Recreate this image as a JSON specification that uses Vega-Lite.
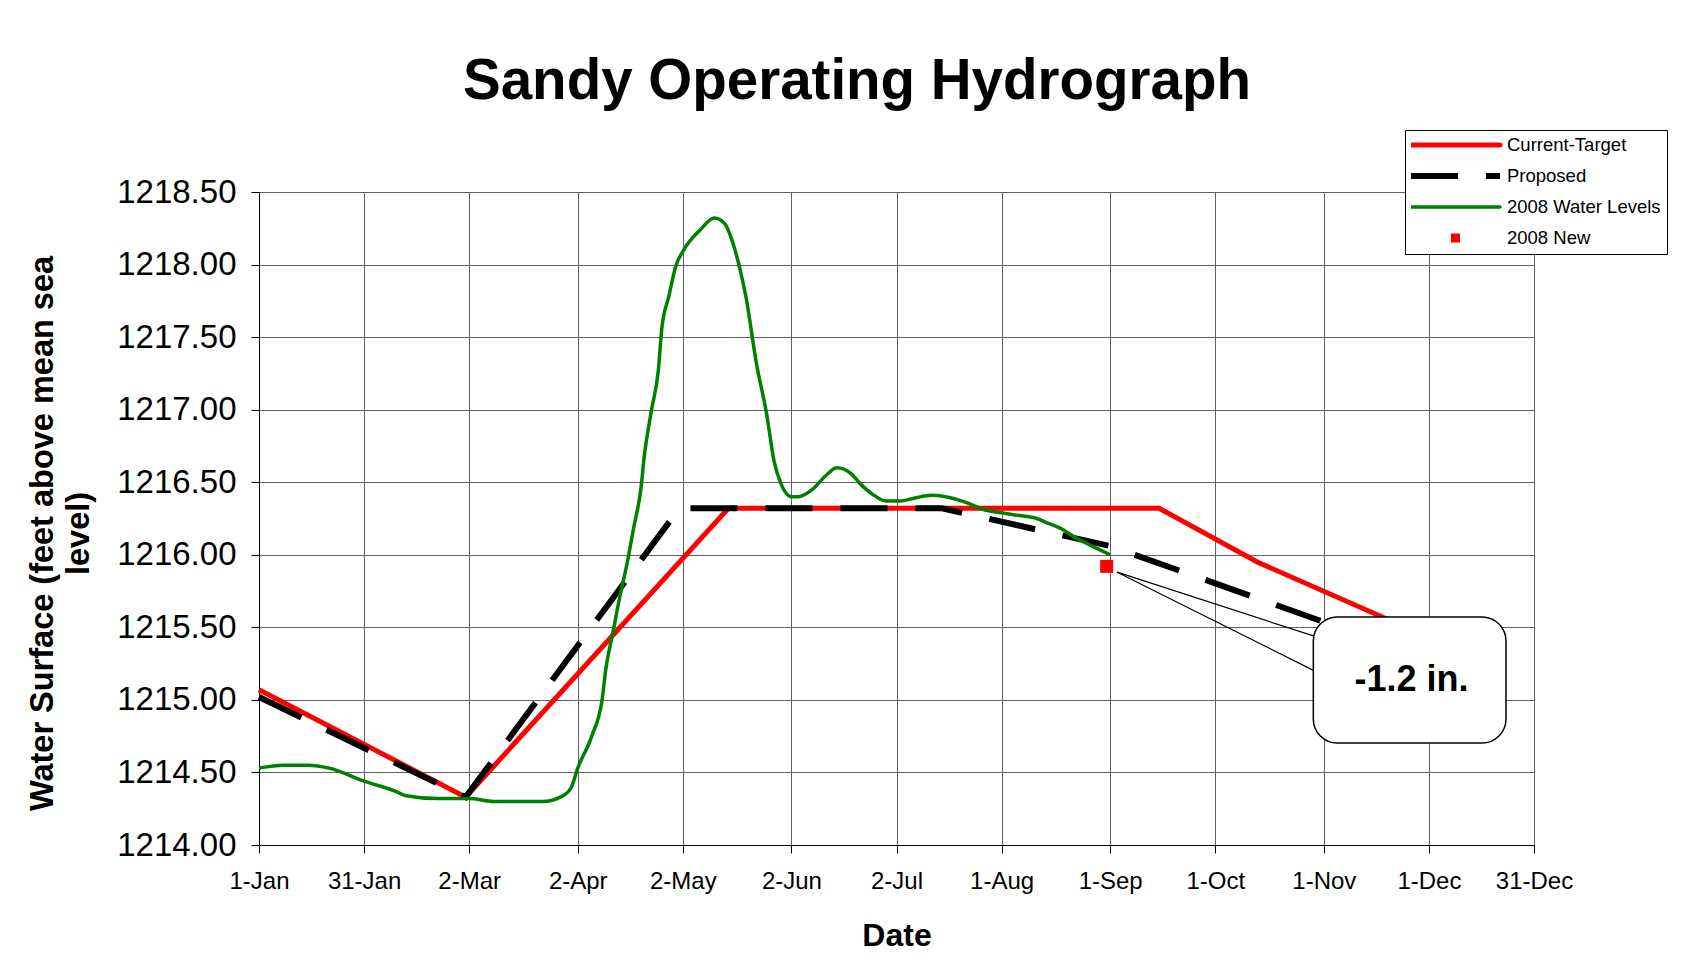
{
  "$schema": "https://vega.github.io/schema/vega-lite/v6.json",
  "width": 1275,
  "height": 653,
  "autosize": "none",
  "padding": {"left": 259, "top": 192, "right": 160, "bottom": 130},
  "background": "white",
  "config": {
    "font": "Liberation Sans",
    "view": {"stroke": "#808080", "strokeWidth": 1},
    "axis": {
      "gridColor": "#606060", "gridWidth": 1, "gridOpacity": 1,
      "domainColor": "#000000", "domainWidth": 1,
      "tickColor": "#000000", "tickSize": 8, "tickWidth": 1,
      "labelColor": "#000000", "titleColor": "#000000",
      "labelFont": "Liberation Sans", "titleFont": "Liberation Sans"
    }
  },
  "title": {
    "text": "Sandy Operating Hydrograph",
    "fontSize": 56.5, "fontWeight": "bold", "font": "Liberation Sans", "color": "#000000",
    "anchor": "middle", "frame": "group", "dx": -39.5, "baseline": "alphabetic", "offset": -26
  },
  "data": {"values": [
    {"series": "Current-Target", "date": "2007-01-01", "level": 1215.07},
    {"series": "Current-Target", "date": "2007-03-01", "level": 1214.33},
    {"series": "Current-Target", "date": "2007-05-15", "level": 1216.32},
    {"series": "Current-Target", "date": "2007-09-15", "level": 1216.32},
    {"series": "Current-Target", "date": "2007-10-13", "level": 1215.95},
    {"series": "Current-Target", "date": "2007-12-01", "level": 1215.43},
    {"series": "Proposed", "date": "2007-01-01", "level": 1215.02},
    {"series": "Proposed", "date": "2007-03-01", "level": 1214.33},
    {"series": "Proposed", "date": "2007-05-01", "level": 1216.32},
    {"series": "Proposed", "date": "2007-07-15", "level": 1216.32},
    {"series": "Proposed", "date": "2007-09-01", "level": 1216.06},
    {"series": "Proposed", "date": "2007-12-01", "level": 1215.28},
    {"series": "2008 Water Levels", "date": "2007-01-01", "level": 1214.53},
    {"series": "2008 Water Levels", "date": "2007-01-08", "level": 1214.55},
    {"series": "2008 Water Levels", "date": "2007-01-15", "level": 1214.55},
    {"series": "2008 Water Levels", "date": "2007-01-21", "level": 1214.53},
    {"series": "2008 Water Levels", "date": "2007-01-31", "level": 1214.44},
    {"series": "2008 Water Levels", "date": "2007-02-09", "level": 1214.37},
    {"series": "2008 Water Levels", "date": "2007-02-12", "level": 1214.34},
    {"series": "2008 Water Levels", "date": "2007-02-21", "level": 1214.32},
    {"series": "2008 Water Levels", "date": "2007-03-02", "level": 1214.32},
    {"series": "2008 Water Levels", "date": "2007-03-09", "level": 1214.30},
    {"series": "2008 Water Levels", "date": "2007-03-23", "level": 1214.30},
    {"series": "2008 Water Levels", "date": "2007-03-28", "level": 1214.33},
    {"series": "2008 Water Levels", "date": "2007-03-31", "level": 1214.39},
    {"series": "2008 Water Levels", "date": "2007-04-02", "level": 1214.53},
    {"series": "2008 Water Levels", "date": "2007-04-06", "level": 1214.75},
    {"series": "2008 Water Levels", "date": "2007-04-09", "level": 1215.01},
    {"series": "2008 Water Levels", "date": "2007-04-10", "level": 1215.21},
    {"series": "2008 Water Levels", "date": "2007-04-12", "level": 1215.46},
    {"series": "2008 Water Levels", "date": "2007-04-14", "level": 1215.71},
    {"series": "2008 Water Levels", "date": "2007-04-16", "level": 1215.93},
    {"series": "2008 Water Levels", "date": "2007-04-18", "level": 1216.19},
    {"series": "2008 Water Levels", "date": "2007-04-20", "level": 1216.45},
    {"series": "2008 Water Levels", "date": "2007-04-21", "level": 1216.68},
    {"series": "2008 Water Levels", "date": "2007-04-23", "level": 1216.99},
    {"series": "2008 Water Levels", "date": "2007-04-25", "level": 1217.27},
    {"series": "2008 Water Levels", "date": "2007-04-26", "level": 1217.56},
    {"series": "2008 Water Levels", "date": "2007-04-28", "level": 1217.78},
    {"series": "2008 Water Levels", "date": "2007-04-30", "level": 1217.99},
    {"series": "2008 Water Levels", "date": "2007-05-02", "level": 1218.09},
    {"series": "2008 Water Levels", "date": "2007-05-07", "level": 1218.24},
    {"series": "2008 Water Levels", "date": "2007-05-11", "level": 1218.32},
    {"series": "2008 Water Levels", "date": "2007-05-14", "level": 1218.28},
    {"series": "2008 Water Levels", "date": "2007-05-16", "level": 1218.17},
    {"series": "2008 Water Levels", "date": "2007-05-18", "level": 1218.00},
    {"series": "2008 Water Levels", "date": "2007-05-20", "level": 1217.78},
    {"series": "2008 Water Levels", "date": "2007-05-23", "level": 1217.32},
    {"series": "2008 Water Levels", "date": "2007-05-26", "level": 1216.96},
    {"series": "2008 Water Levels", "date": "2007-05-28", "level": 1216.65},
    {"series": "2008 Water Levels", "date": "2007-05-30", "level": 1216.49},
    {"series": "2008 Water Levels", "date": "2007-06-02", "level": 1216.40},
    {"series": "2008 Water Levels", "date": "2007-06-04", "level": 1216.40},
    {"series": "2008 Water Levels", "date": "2007-06-08", "level": 1216.45},
    {"series": "2008 Water Levels", "date": "2007-06-12", "level": 1216.55},
    {"series": "2008 Water Levels", "date": "2007-06-15", "level": 1216.60},
    {"series": "2008 Water Levels", "date": "2007-06-19", "level": 1216.56},
    {"series": "2008 Water Levels", "date": "2007-06-22", "level": 1216.48},
    {"series": "2008 Water Levels", "date": "2007-06-25", "level": 1216.42},
    {"series": "2008 Water Levels", "date": "2007-06-29", "level": 1216.37},
    {"series": "2008 Water Levels", "date": "2007-07-03", "level": 1216.37},
    {"series": "2008 Water Levels", "date": "2007-07-07", "level": 1216.39},
    {"series": "2008 Water Levels", "date": "2007-07-12", "level": 1216.41},
    {"series": "2008 Water Levels", "date": "2007-07-16", "level": 1216.40},
    {"series": "2008 Water Levels", "date": "2007-07-22", "level": 1216.36},
    {"series": "2008 Water Levels", "date": "2007-07-27", "level": 1216.31},
    {"series": "2008 Water Levels", "date": "2007-08-01", "level": 1216.29},
    {"series": "2008 Water Levels", "date": "2007-08-06", "level": 1216.27},
    {"series": "2008 Water Levels", "date": "2007-08-11", "level": 1216.25},
    {"series": "2008 Water Levels", "date": "2007-08-14", "level": 1216.22},
    {"series": "2008 Water Levels", "date": "2007-08-18", "level": 1216.18},
    {"series": "2008 Water Levels", "date": "2007-08-22", "level": 1216.12},
    {"series": "2008 Water Levels", "date": "2007-08-26", "level": 1216.07},
    {"series": "2008 Water Levels", "date": "2007-09-01", "level": 1216.00},
    {"series": "2008 New", "date": "2007-08-31", "level": 1215.92}
  ]},
  "encoding": {
    "x": {
      "field": "date", "type": "temporal",
      "scale": {"type": "utc", "nice": false, "domain": [
        {"year": 2007, "month": 1, "date": 1, "utc": true},
        {"year": 2007, "month": 12, "date": 31, "utc": true}
      ]},
      "axis": {
        "title": "Date", "titleFontSize": 32, "titleFontWeight": "bold", "titlePadding": 27,
        "labelExpr": "utcFormat(datum.value, '%-d-%b')",
        "labelFontSize": 24, "labelPadding": 16, "labelFlush": false, "labelOverlap": false,
        "grid": true,
        "values": [
          {"year": 2007, "month": 1, "date": 1, "utc": true},
          {"year": 2007, "month": 1, "date": 31, "utc": true},
          {"year": 2007, "month": 3, "date": 2, "utc": true},
          {"year": 2007, "month": 4, "date": 2, "utc": true},
          {"year": 2007, "month": 5, "date": 2, "utc": true},
          {"year": 2007, "month": 6, "date": 2, "utc": true},
          {"year": 2007, "month": 7, "date": 2, "utc": true},
          {"year": 2007, "month": 8, "date": 1, "utc": true},
          {"year": 2007, "month": 9, "date": 1, "utc": true},
          {"year": 2007, "month": 10, "date": 1, "utc": true},
          {"year": 2007, "month": 11, "date": 1, "utc": true},
          {"year": 2007, "month": 12, "date": 1, "utc": true},
          {"year": 2007, "month": 12, "date": 31, "utc": true}
        ]
      }
    },
    "y": {
      "field": "level", "type": "quantitative",
      "scale": {"domain": [1214, 1218.5], "nice": false, "zero": false},
      "axis": {
        "title": ["Water Surface (feet above mean sea", "level)"],
        "titleFontSize": 32.5, "titleFontWeight": "bold", "titleLineHeight": 36, "titlePadding": 21,
        "titleY": 341,
        "format": ".2f", "labelFontSize": 33, "labelPadding": 15, "grid": true,
        "values": [1214, 1214.5, 1215, 1215.5, 1216, 1216.5, 1217, 1217.5, 1218, 1218.5]
      }
    }
  },
  "layer": [
    {
      "transform": [{"filter": "datum.series === 'Current-Target'"}],
      "mark": {"type": "line", "strokeWidth": 5, "strokeCap": "butt", "strokeJoin": "miter"},
      "encoding": {
        "color": {
          "field": "series", "type": "nominal",
          "scale": {
            "domain": ["Current-Target", "Proposed", "2008 Water Levels", "2008 New"],
            "range": ["#ff0000", "#000000", "#008000", "#ff0000"]
          },
          "legend": {
            "title": null, "orient": "none", "legendX": 1146, "legendY": -62, "direction": "vertical",
            "symbolSize": 7921, "symbolType": "stroke", "clipHeight": 18, "rowPadding": 12, "padding": 6,
            "labelFontSize": 18.5, "labelOffset": 7, "labelFont": "Liberation Sans", "labelColor": "#000000",
            "strokeColor": "#000000", "fillColor": "#ffffff",
            "encode": {
              "symbols": {
                "update": {
                  "shape": {"signal": "(datum.value === '2008 New' ? 'M-0.101,-0.101H0.101V0.101H-0.101Z' : 'stroke')"},
                  "size": {"value": 7921},
                  "strokeWidth": {"signal": "(datum.value === 'Current-Target' ? 5 : datum.value === 'Proposed' ? 6 : datum.value === '2008 Water Levels' ? 3.5 : 0)"},
                  "strokeDash": {"signal": "(datum.value === 'Proposed' ? [47, 28] : [1, 0])"},
                  "strokeCap": {"signal": "(datum.value === 'Proposed' ? 'butt' : 'round')"},
                  "fill": {"signal": "(datum.value === '2008 New' ? '#ff0000' : 'transparent')"},
                  "stroke": {"signal": "(datum.value === 'Current-Target' ? '#ff0000' : datum.value === 'Proposed' ? '#000000' : datum.value === '2008 Water Levels' ? '#008000' : 'transparent')"},
                  "opacity": {"value": 1}
                }
              }
            }
          }
        }
      }
    },
    {
      "transform": [{"filter": "datum.series === 'Proposed'"}],
      "mark": {"type": "line", "strokeWidth": 6, "strokeDash": [47, 28], "strokeCap": "butt"},
      "encoding": {"color": {"field": "series", "type": "nominal"}}
    },
    {
      "transform": [{"filter": "datum.series === '2008 Water Levels'"}],
      "mark": {"type": "line", "strokeWidth": 3.5, "interpolate": "monotone"},
      "encoding": {"color": {"field": "series", "type": "nominal"}}
    },
    {
      "transform": [{"filter": "datum.series === '2008 New'"}],
      "mark": {"type": "point", "shape": "square", "filled": true, "size": 170, "opacity": 1},
      "encoding": {"color": {"field": "series", "type": "nominal"}}
    },
    {
      "data": {"values": [
        {"date": "2007-09-03", "level": 1215.88, "date2": "2007-11-02", "level2": 1215.41},
        {"date": "2007-09-03", "level": 1215.88, "date2": "2007-11-02", "level2": 1215.155}
      ]},
      "mark": {"type": "rule", "stroke": "#000000", "strokeWidth": 1.2},
      "encoding": {"x2": {"field": "date2"}, "y2": {"field": "level2"}}
    },
    {
      "data": {"values": [
        {"date": "2007-10-29", "level": 1215.571, "date2": "2007-12-23", "level2": 1214.703}
      ]},
      "mark": {"type": "rect", "fill": "#ffffff", "stroke": "#000000", "strokeWidth": 1.5, "cornerRadius": 24},
      "encoding": {"x2": {"field": "date2"}, "y2": {"field": "level2"}}
    },
    {
      "data": {"values": [
        {"date": "2007-11-26", "level": 1215.14, "label": "-1.2 in."}
      ]},
      "mark": {"type": "text", "fontSize": 36, "fontWeight": "bold", "font": "Liberation Sans", "align": "center", "baseline": "middle", "color": "#000000"},
      "encoding": {"text": {"field": "label"}}
    }
  ]
}
